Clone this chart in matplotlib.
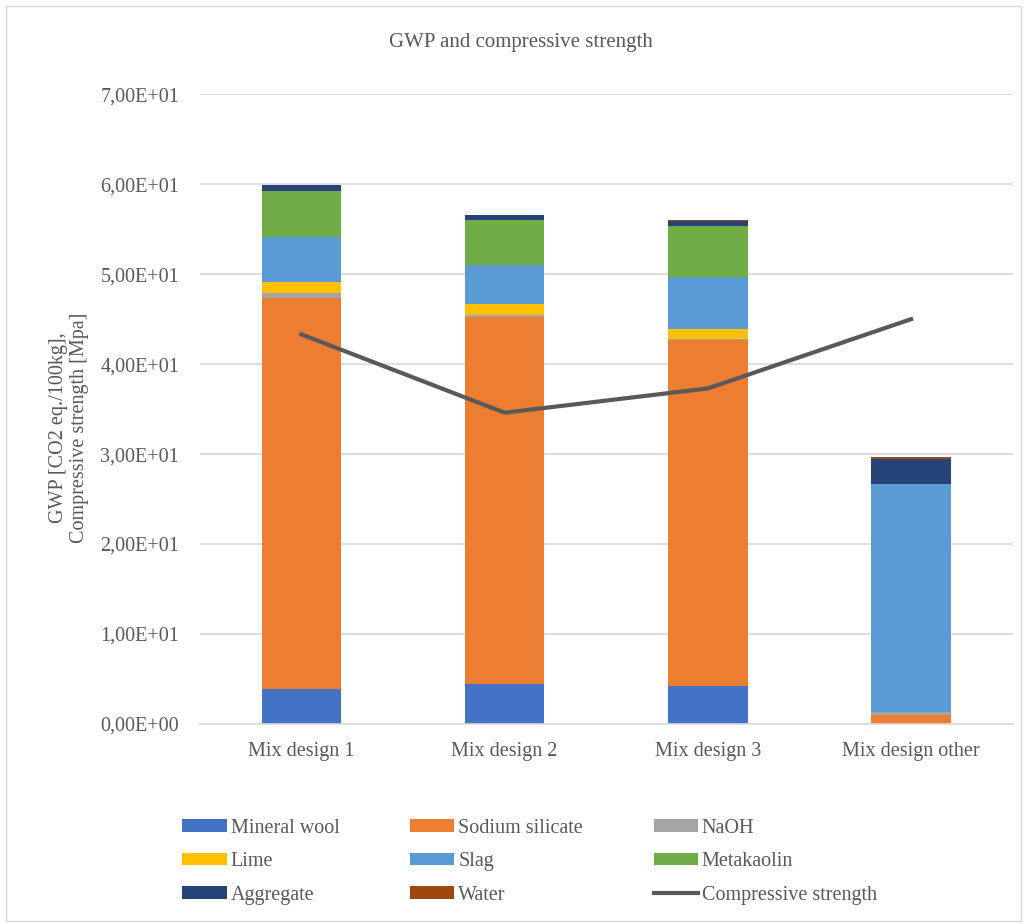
import matplotlib.pyplot as plt
import numpy as np
from matplotlib.lines import Line2D
from matplotlib.patches import Patch, Rectangle

plt.rcParams['font.family'] = ['Liberation Serif', 'DejaVu Serif']

# data
mixes = ['Mix design 1', 'Mix design 2', 'Mix design 3', 'Mix design other']
mineral_wool = [3.9, 4.4, 4.2, 0.0]
sodium_silicate = [43.5, 40.8, 38.5, 1.0]
naoh = [0.5, 0.3, 0.1, 0.3]
lime = [1.2, 1.2, 1.1, 0.0]
slag = [5.0, 4.3, 5.8, 25.4]
metakaolin = [5.2, 5.0, 5.7, 0.0]
aggregate = [0.6, 0.6, 0.55, 2.8]
water = [0.02, 0.02, 0.02, 0.2]
compressive_strength = [43.3, 34.6, 37.3, 45.0]

series = [
    ('Mineral wool', mineral_wool, '#4472C4'),
    ('Sodium silicate', sodium_silicate, '#ED7D31'),
    ('NaOH', naoh, '#A5A5A5'),
    ('Lime', lime, '#FFC000'),
    ('Slag', slag, '#5B9BD5'),
    ('Metakaolin', metakaolin, '#70AD47'),
    ('Aggregate', aggregate, '#264478'),
    ('Water', water, '#9E480E'),
]

text_col = '#595959'
fig = plt.figure(figsize=(10.25, 9.24), dpi=100)
ax = fig.add_axes([0.195, 0.2165, 0.793, 0.6815])

x = np.arange(len(mixes))
bottom = np.zeros(len(mixes))
handles = {}
for name, vals, col in series:
    ax.bar(x, vals, width=0.39, bottom=bottom, color=col, zorder=2)
    bottom += np.array(vals)
    handles[name] = Patch(facecolor=col)

ax.plot(x, compressive_strength, color='#595959', lw=3, zorder=3)
handles['Compressive strength'] = Line2D([], [], color='#595959', lw=3)

ax.set_xlim(-0.5, 3.5)
ax.set_ylim(0, 70)
ax.set_yticks(np.arange(0, 71, 10))
ax.set_yticklabels([f'{v:.2E}'.replace('.', ',') for v in np.arange(0, 71, 10)])
ax.set_xticks(x)
ax.set_xticklabels(mixes)
ax.tick_params(length=0, labelsize=14.5, labelcolor=text_col)
ax.tick_params(axis='x', pad=13)
ax.tick_params(axis='y', pad=15)
ax.grid(axis='y', color='#D9D9D9', lw=1.2, zorder=0)
for s in ['top', 'right', 'left']:
    ax.spines[s].set_visible(False)
ax.spines['bottom'].set_color('#D9D9D9')
ax.spines['bottom'].set_linewidth(1.2)

ax.set_ylabel('GWP [CO2 eq./100kg],\nCompressive strength [Mpa]', fontsize=14.5,
              color=text_col)
ax.yaxis.set_label_coords(-0.136, 0.47)
fig.text(0.508, 0.954, 'GWP and compressive strength', ha='center', va='center',
         fontsize=15, color=text_col)

# legend reads row-wise in the reference; matplotlib fills column-wise
order = ['Mineral wool', 'Lime', 'Aggregate', 'Sodium silicate', 'Slag', 'Water',
         'NaOH', 'Metakaolin', 'Compressive strength']
leg = fig.legend([handles[k] for k in order], order, ncol=3, loc='upper left',
                 bbox_to_anchor=(0.168, 0.125), frameon=False, fontsize=14.5,
                 handlelength=2.2, handleheight=0.55, handletextpad=0.2,
                 columnspacing=3.5, labelspacing=0.72, borderpad=0)
for t in leg.get_texts():
    t.set_color(text_col)

fig.patches.append(Rectangle((0.006, 0.003), 0.99, 0.99, transform=fig.transFigure,
                             fill=False, edgecolor='#D9D9D9', lw=1))

fig.savefig('out.png', dpi=100)
